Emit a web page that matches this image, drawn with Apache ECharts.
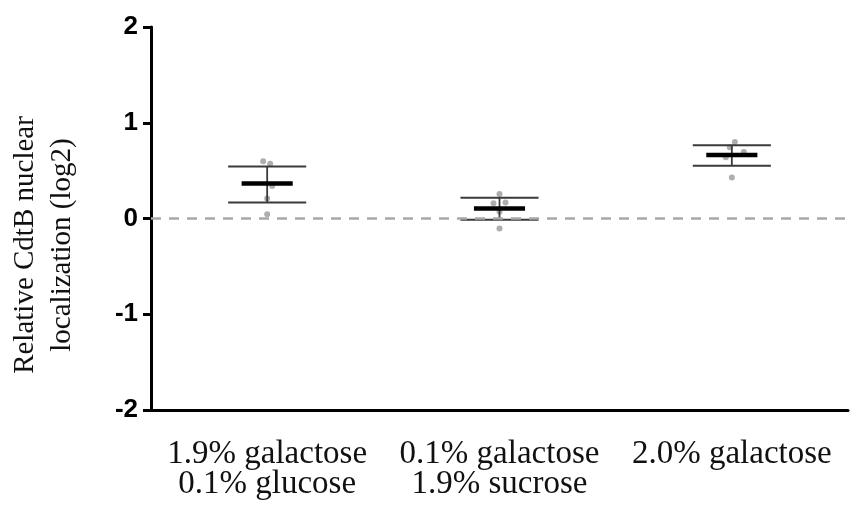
<!DOCTYPE html>
<html>
<head>
<meta charset="utf-8">
<script src="https://cdn.jsdelivr.net/npm/echarts@6/dist/echarts.min.js"></script>
<style>
  html, body { margin: 0; padding: 0; background: #fff; }
  #chart { width: 856px; height: 506px; }
</style>
</head>
<body>
<div id="chart"></div>
<script>
// Conditions on the x axis
const categories = ['1.9% galactose\n0.1% glucose', '0.1% galactose\n1.9% sucrose', '2.0% galactose'];
// Group means and error-bar ends (log2 relative nuclear localization)
const means = [0.365, 0.105, 0.663];
const errLow = [0.168, -0.014, 0.551];
const errHigh = [0.544, 0.217, 0.765];
// Individual replicate values per condition
const pointsA = [0.597, 0.572, 0.34, 0.21, 0.045];
const pointsB = [0.256, 0.158, 0.168, -0.105, 0.07];
const pointsC = [0.80, 0.744, 0.695, 0.639, 0.428];
const yTicks = [-2, -1, 0, 1, 2];

// small horizontal spread so overlapping dots stay visible
const spread = [[-4, 3, 5, 0, 0], [0, -6, 6, 0, 0], [3, -2, 12, -6, 0]];

const groups = [pointsA, pointsB, pointsC];
const scatterData = [];
groups.forEach((vals, gi) => {
  vals.forEach((v, k) => {
    scatterData.push({ value: [gi, v], symbolOffset: [spread[gi][k], 0] });
  });
});

const errData = categories.map((c, i) => [i, means[i], errLow[i], errHigh[i]]);

const chart = echarts.init(document.getElementById('chart'), null, { renderer: 'canvas' });
chart.setOption({
  animation: false,
  backgroundColor: '#fff',
  grid: { left: 151, right: 8, top: 27, bottom: 96, containLabel: false },
  xAxis: {
    type: 'category',
    data: categories,
    boundaryGap: true,
    axisLine: { onZero: false, lineStyle: { color: '#000', width: 3 } },
    axisTick: { alignWithLabel: true, length: 8, lineStyle: { color: '#000', width: 3 } },
    axisLabel: {
      interval: 0, margin: 29, color: '#111',
      fontFamily: 'Liberation Serif', fontSize: 33, lineHeight: 30
    },
    splitLine: { show: false }
  },
  yAxis: {
    type: 'value',
    min: yTicks[0], max: yTicks[yTicks.length - 1], interval: 1,
    axisLine: { show: true, lineStyle: { color: '#000', width: 3 } },
    axisTick: { show: true, length: 8, lineStyle: { color: '#000', width: 3 } },
    axisLabel: {
      margin: 13, color: '#000', fontFamily: 'Liberation Sans',
      fontWeight: 'bold', fontSize: 26
    },
    splitLine: { show: false }
  },
  graphic: [{
    type: 'text',
    x: 44, y: 245,
    rotation: Math.PI / 2,
    style: {
      text: 'Relative CdtB nuclear\nlocalization (log2)',
      fontFamily: 'Liberation Serif', fontSize: 29, lineHeight: 37,
      fill: '#111', align: 'center', verticalAlign: 'middle'
    }
  }],
  series: [
    {
      type: 'line',
      data: [],
      silent: true,
      markLine: {
        silent: true,
        symbol: 'none',
        label: { show: false },
        lineStyle: { color: '#a8a8a8', width: 2.5, type: [10, 8] },
        data: [{ yAxis: 0 }]
      }
    },
    {
      type: 'scatter',
      data: scatterData,
      symbol: 'circle',
      symbolSize: 6,
      itemStyle: { color: '#9a9a9a' },
      z: 3
    },
    {
      type: 'custom',
      data: errData,
      z: 4,
      renderItem: function (params, api) {
        const band = api.size([1, 0])[0];
        const x = api.coord([api.value(0), 0])[0];
        const yMean = api.coord([api.value(0), api.value(1)])[1];
        const yLo = api.coord([api.value(0), api.value(2)])[1];
        const yHi = api.coord([api.value(0), api.value(3)])[1];
        const capHalf = band * 0.168;
        const meanHalf = band * 0.11;
        const thin = { stroke: '#3a3a3a', lineWidth: 2 };
        return {
          type: 'group',
          children: [
            { type: 'line', shape: { x1: x, y1: yLo, x2: x, y2: yHi }, style: { stroke: '#3a3a3a', lineWidth: 1.8 } },
            { type: 'line', shape: { x1: x - capHalf, y1: yHi, x2: x + capHalf, y2: yHi }, style: thin },
            { type: 'line', shape: { x1: x - capHalf, y1: yLo, x2: x + capHalf, y2: yLo }, style: thin },
            { type: 'line', shape: { x1: x - meanHalf, y1: yMean, x2: x + meanHalf, y2: yMean }, style: { stroke: '#000', lineWidth: 4.5 } }
          ]
        };
      }
    }
  ]
});
</script>
</body>
</html>
